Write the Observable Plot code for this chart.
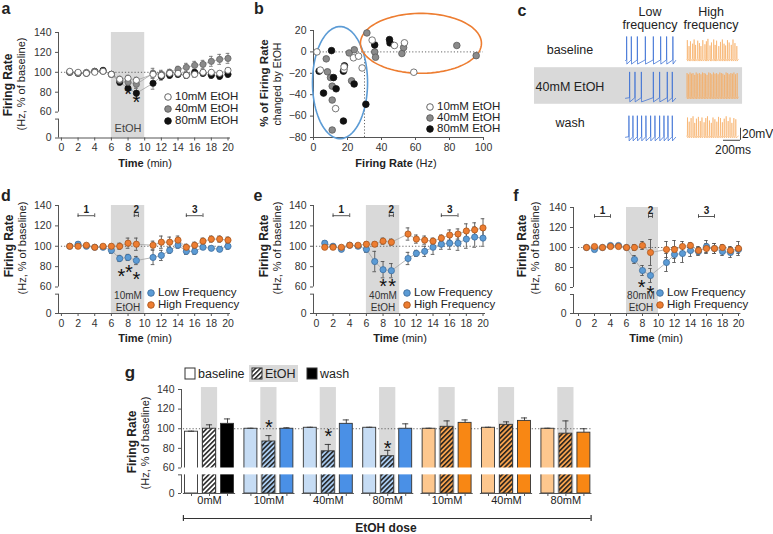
<!DOCTYPE html>
<html><head><meta charset="utf-8">
<script src="https://cdn.jsdelivr.net/npm/d3@7"></script>
<script src="https://cdn.jsdelivr.net/npm/@observablehq/plot@0.6"></script>
<style>
html,body{margin:0;padding:0;background:#fff;}
#fig{position:relative;width:773px;height:534px;overflow:hidden;background:#fff;font-family:"Liberation Sans",Arial,sans-serif;color:#222;}
#fig svg{overflow:visible;}
.lbl{position:absolute;white-space:nowrap;font-size:11px;line-height:1;transform:translate(-50%,-50%);}
.lbl.start{transform:translate(0,-50%);}
.lbl.rot{transform:translate(-50%,-50%) rotate(-90deg);}
</style></head><body>
<div id="fig"></div>
<script>
// ---------------- DATA ----------------
const times = [1,2,3,4,5,6,7,8,9,11,12,13,14,15,16,17,18,19,20];
const etohWindow = [6, 10];

// panel a (EtOH doses, all neurons)
const a10  = [101,100,99,100,101,98,93,94,92,98,97,99,99,97,98,100,100,99,102];
const a10e = [1.5,1.5,1.5,1.5,1.5,2,3,3,3,4,4,3,3,3,3,3,2,2,2];
const a40  = [100,99,100,101,101,98,92,90,88,99,98,100,103,105,107,108,111,113,114];
const a40e = [1.5,1.5,1.5,1.5,1.5,2,3,3,4,5,4,3,3,4,4,4,5,5,5];
const a80  = [100,99,99,101,102,98,90,84,79,89,96,97,98,97,100,99,97,96,98];
const a80e = [1.5,1.5,1.5,1.5,1.5,2,3,4,5,6,4,3,3,3,3,3,3,3,3];
const aSig = [{t:8.0, y:82.7}, {t:9.0, y:74.7}];

// panel b (baseline firing rate vs % change)
const b10x = [2,4,18,18,23.5,26.5,28.6,13,34.5,47.6,53.5,59];
const b10y = [0,-17,-16.5,-14,-5.5,-4,-15,-53,11,6,8.5,-19];
const b40x = [7.5,8.2,10,11,11,11,21,24,22.4,31.4,36,36.5,52,53,84.3,95.7];
const b40y = [-6.5,-18.6,-24,-32,-45,-73,-1,2,-27,17.7,0,-5,-1.5,4,6,-3.5];
const b80x = [3.3,5.9,10.6,11.8,13.3,18.2,17.6,17.6,23.9,30.8,36,44.7,45];
const b80y = [-18,-38.5,1.2,-24,-34.5,-13,-18,-64.6,-30,-49,6.5,11.5,8.4];
const lowHighCut = 30;
const blueEllipse = {cx:15.6, cy:-28.7, rx:16.2, ry:52.4};
const orangeEllipse = {cx:63.2, cy:8, rx:35.6, ry:28};

// panel c (example traces, spike times in ms and amplitudes in mV)
const cRows = ["baseline", "40mM EtOH", "wash"];
const lowSpikes = [
  [12,67,138,232,326,412,482,556],
  [47,110,185,326,400,490,549],
  [39,86,138,188,239,294,345,400,451,498,549]
];
const lowAmp = [40, 44, 36];
const highSpikes = [
  [8,28,45,70,88,105,130,150,168,190,215,232,250,275,292,318,335,352,378,398,420,440,458,480,500,525,545,568,590],
  [5,22,40,58,75,95,112,130,150,168,186,205,222,240,260,278,296,315,333,352,370,390,408,426,445,464,482,500,520,538,556,575,594],
  [10,30,52,75,95,115,138,160,180,205,225,245,268,290,310,332,355,375,398,420,442,465,488,510,532,555,578]
];
const highAmp = [
  [32,22,30,26,33,24,31,27,22,32,25,30,34,23,28,33,24,31,22,29,33,26,23,32,28,24,33,27,22],
  [40,38,41,39,40,37,41,39,40,38,41,40,39,37,41,40,38,41,39,40,38,41,40,39,37,41,40,38,40,39,41,38,40],
  [31,24,30,33,22,29,32,25,31,23,30,33,26,22,31,28,24,32,30,23,29,33,25,31,22,30,28]
];

// panel d (10 mM)
const dLow   = [100,102,100,99,99,96,88,89,86,89,91,96,101,95,95,99,98,97,100];
const dLowE  = [1.5,2,1.5,1.5,1.5,3,3,3,4,7,5,3,3,3,3,2,2,2,3];
const dHigh  = [100,100,101,99,100,100,100,103,102,101,104,104,106,99,101,105,107,107,106];
const dHighE = [1.5,1.5,1.5,1.5,1.5,2,3,5,6,4,6,5,4,3,3,3,3,3,3];
const dSig = [{t:7.2,y:75.2},{t:8.1,y:79.1},{t:9.0,y:72.3}];
// panel e (40 mM)
const eLow   = [103,100,97,101,100,97,85,77,76,88,93,95,99,102,103,103,107,109,108];
const eLowE  = [2,2,2,2,2,3,10,8,7,6,3,5,7,5,6,7,9,10,8];
const eHigh  = [99,99,99,101,101,102,102,105,104,112,107,106,105,108,111,112,115,116,118];
const eHighE = [1.5,1.5,1.5,1.5,1.5,2,2,3,3,6,4,4,3,3,5,5,7,7,9];
const eSig = [{t:8.0,y:65.4},{t:9.1,y:65.4}];
// panel f (80 mM)
const fLow   = [100,98,100,102,102,100,88,77,72,85,93,94,97,96,101,99,96,95,98];
const fLowE  = [2,2,2,2,2,2,4,5,7,9,8,9,6,4,6,5,4,5,4];
const fHigh  = [100,101,100,101,101,100,100,102,95,98,98,101,102,97,99,99,100,97,99];
const fHighE = [1.5,1.5,1.5,1.5,1.5,2,3,4,13,8,9,5,3,4,5,5,3,4,7];
const fSig = [{t:7.9,y:65},{t:9.0,y:59}];
const epochs = [{n:"1", x1:2, x2:4}, {n:"2", x1:8.75, x2:9.25}, {n:"3", x1:15, x2:17}];

// panel g (summary bars)
const gDoses  = ["0mM","10mM","40mM","80mM","10mM","40mM","80mM"];
const gFamily = ["ctrl","low","low","low","high","high","high"];
const gConds  = ["baseline","EtOH","wash"];
const gBase   = [97,100,101,101,100,101,100];
const gBaseE  = [0.5,0.5,0.5,0.5,0.5,0.5,0.5];
const gEtoh   = [100,87,77,72,102,104,95];
const gEtohE  = [4,6,7,6,6,3,13];
const gWash   = [105,100,105,100,106,108,96];
const gWashE  = [5,1,4,5,3,3,4];
const gSig    = [null,106.4,97.2,85,null,null,null];

// ---------------- HELPERS ----------------
const fig = document.getElementById("fig");
const FONT = "'Liberation Sans', Arial, sans-serif";
const Y0 = 34, BRK_LO = 53, BRK_HI = 60;   // broken axis: "0" drawn at Y0
const STYLE = {fontFamily: FONT, fontSize: "10.5px", color: "#333", background: "transparent", overflow: "visible"};

function place(el, left, top) {
  el.style.position = "absolute"; el.style.left = left + "px"; el.style.top = top + "px";
  fig.appendChild(el);
}
function label(html, x, y, opt = {}) {
  const d = document.createElement("div");
  d.className = "lbl" + (opt.rot ? " rot" : "") + (opt.anchor === "start" ? " start" : "");
  d.innerHTML = html;
  d.style.left = x + "px"; d.style.top = y + "px";
  if (opt.size) d.style.fontSize = opt.size + "px";
  if (opt.bold) d.style.fontWeight = "bold";
  if (opt.color) d.style.color = opt.color;
  fig.appendChild(d);
}
function legendDot(x, y, fill, stroke, text, size = 11.5) {
  const s = document.createElementNS("http://www.w3.org/2000/svg", "svg");
  s.setAttribute("width", 10); s.setAttribute("height", 10);
  s.innerHTML = `<circle cx="5" cy="5" r="3.3" fill="${fill}" stroke="${stroke}" stroke-width="0.9"/>`;
  place(s, x - 5, y - 5);
  label(text, x + 7, y, {anchor: "start", size});
}

// hatch patterns
const defs = d3.select(fig).append("svg").attr("width", 0).attr("height", 0)
  .style("position", "absolute").append("defs");
function hatch(id, bg) {
  const p = defs.append("pattern").attr("id", id).attr("patternUnits", "userSpaceOnUse")
    .attr("width", 3.4).attr("height", 3.4).attr("patternTransform", "rotate(45)");
  p.append("rect").attr("width", 3.4).attr("height", 3.4).attr("fill", bg);
  p.append("line").attr("x1", 0.8).attr("y1", 0).attr("x2", 0.8).attr("y2", 3.4)
    .attr("stroke", "#1a1a1a").attr("stroke-width", 1.5);
}
hatch("hatchCtrl", "#ffffff");
hatch("hatchLow", "#a9cbf0");
hatch("hatchHigh", "#f6a24e");

function brokenYAxis(xmin) {
  return [
    Plot.ruleX([xmin], {y1: Y0, y2: BRK_LO, stroke: "#555"}),
    Plot.ruleX([xmin], {y1: BRK_HI, y2: 140, stroke: "#555"}),
    Plot.axisY({ticks: [Y0, 60, 80, 100, 120, 140], tickFormat: d => d === Y0 ? "0" : d, tickSize: 3, tickPadding: 4, label: null, stroke: "#555"}),
    Plot.axisY({ticks: [BRK_LO], tickFormat: () => "", tickSize: 3, label: null, stroke: "#555"})
  ];
}

function timecourse(o) {
  const marks = [
    Plot.rect([etohWindow], {x1: d => d[0], x2: d => d[1], y1: Y0, y2: 140, fill: "#d9d9d9"}),
    Plot.ruleY([100], {x1: 0, x2: 20, stroke: "#555", strokeWidth: 0.9, strokeDasharray: "1.2,2"}),
    Plot.ruleY([Y0], {x1: o.xdom[0], x2: o.xdom[1], stroke: "#555"}),
    ...brokenYAxis(o.xdom[0]),
    Plot.axisX({ticks: d3.range(0, 21, 2), tickSize: 3, tickPadding: 3, label: null, stroke: "#555"})
  ];
  const sets = o.series.map(s => times.map((t, i) => ({t, v: s.v[i], e: s.e[i]})));
  sets.forEach(rows => marks.push(Plot.line(rows, {x: "t", y: "v", stroke: "#a3a3a3", strokeWidth: 0.8})));
  o.series.forEach((s, k) => {
    const rows = sets[k];
    marks.push(
      Plot.ruleX(rows, {x: "t", y1: d => d.v - d.e, y2: d => d.v + d.e, stroke: o.errColor, strokeWidth: 0.9}),
      Plot.ruleY(rows, {y: d => d.v + d.e, x1: d => d.t - 0.22, x2: d => d.t + 0.22, stroke: o.errColor, strokeWidth: 0.9}),
      Plot.ruleY(rows, {y: d => d.v - d.e, x1: d => d.t - 0.22, x2: d => d.t + 0.22, stroke: o.errColor, strokeWidth: 0.9})
    );
  });
  o.series.forEach((s, k) => marks.push(
    Plot.dot(sets[k], {x: "t", y: "v", r: 3.1, fill: s.fill, stroke: s.stroke, strokeWidth: 0.8})
  ));
  marks.push(Plot.text(o.sig, {x: "t", y: "y", text: () => "*", fontSize: 20, dy: 5, fill: "#111"}));
  if (o.epochs) {
    const by = o.bracketY;
    marks.push(
      Plot.ruleY(o.epochs, {y: by, x1: "x1", x2: "x2", stroke: "#444", strokeWidth: 0.9}),
      Plot.ruleX(o.epochs.flatMap(e => [e.x1, e.x2]), {y1: by - 1.8, y2: by + 1.8, stroke: "#444", strokeWidth: 0.9}),
      Plot.text(o.epochs, {x: d => (d.x1 + d.x2) / 2, y: by, text: "n", dy: -6, fontSize: 10, fontWeight: "bold", fill: "#222"})
    );
  }
  const p = Plot.plot({
    width: o.width, height: o.height,
    marginLeft: o.mL, marginRight: o.mR, marginTop: o.mT, marginBottom: o.mB,
    x: {domain: o.xdom}, y: {domain: [Y0, 140]},
    style: STYLE, marks
  });
  place(p, o.left, o.top);
}

const lowS  = {fill: "#5b9bd5", stroke: "#3f6f9f"};
const highS = {fill: "#ed7d31", stroke: "#a9571d"};

// ---------------- PANEL a ----------------
timecourse({
  left: 0, top: 0, width: 260, height: 175, mL: 58, mR: 30, mT: 32, mB: 37.5, xdom: [-0.35, 20.3],
  errColor: "#777", sig: aSig,
  series: [
    {v: a80, e: a80e, fill: "#111", stroke: "#111"},
    {v: a40, e: a40e, fill: "#8a8a8a", stroke: "#666"},
    {v: a10, e: a10e, fill: "#fff", stroke: "#555"}
  ]
});

// ---------------- PANEL b ----------------
{
  const ell = e => d3.range(0, 361, 4).map(a => ({x: e.cx + e.rx * Math.cos(a * Math.PI / 180), y: e.cy + e.ry * Math.sin(a * Math.PI / 180)}));
  const pts = (xs, ys) => xs.map((x, i) => ({x, y: ys[i]}));
  const p = Plot.plot({
    width: 270, height: 175, marginLeft: 63, marginRight: 37, marginTop: 30, marginBottom: 38,
    x: {domain: [0, 100]}, y: {domain: [-80, 20]}, style: STYLE,
    marks: [
      Plot.ruleY([0], {x1: 0, x2: 100, stroke: "#555", strokeWidth: 0.9, strokeDasharray: "1.2,2"}),
      Plot.ruleX([lowHighCut], {y1: -80, y2: 0, stroke: "#555", strokeWidth: 0.9, strokeDasharray: "1.2,2"}),
      Plot.ruleY([-80], {x1: 0, x2: 100, stroke: "#555"}),
      Plot.ruleX([0], {y1: -80, y2: 20, stroke: "#555"}),
      Plot.axisY({ticks: d3.range(-80, 21, 20), tickSize: 3, tickPadding: 4, label: null, stroke: "#555"}),
      Plot.axisX({ticks: d3.range(0, 101, 20), tickSize: 3, tickPadding: 3, label: null, stroke: "#555"}),
      Plot.line(ell(blueEllipse), {x: "x", y: "y", stroke: "#5b9bd5", strokeWidth: 1.6}),
      Plot.line(ell(orangeEllipse), {x: "x", y: "y", stroke: "#ed7d31", strokeWidth: 1.6}),
      Plot.dot(pts(b40x, b40y), {x: "x", y: "y", r: 3.3, fill: "#8a8a8a", stroke: "#5a5a5a", strokeWidth: 0.8}),
      Plot.dot(pts(b80x, b80y), {x: "x", y: "y", r: 3.3, fill: "#111", stroke: "#111", strokeWidth: 0.8}),
      Plot.dot(pts(b10x, b10y), {x: "x", y: "y", r: 3.3, fill: "#fff", stroke: "#555", strokeWidth: 0.8})
    ]
  });
  place(p, 250, 0);
}

// ---------------- PANEL c ----------------
{
  const rest = [-100, -163, -228];
  const lowStart = 1235, highStart = 1953;
  function trace(spikes, amps, start, dur, r, ahp, row) {
    const out = [{x: start, y: r, row}];
    spikes.forEach((s, i) => {
      const t = start + s;
      out.push({x: t, y: r + 1, row}, {x: t + 1.5, y: r + amps[i], row}, {x: t + 4, y: r - ahp, row});
    });
    out.push({x: start + dur, y: r, row});
    return out;
  }
  const lowPts = cRows.flatMap((row, i) => trace(lowSpikes[i], lowSpikes[i].map(() => lowAmp[i]), lowStart, 590, rest[i], 6, row));
  const highPts = cRows.flatMap((row, i) => trace(highSpikes[i], highAmp[i], highStart, 610, rest[i] + 2, 3, row));
  const p = Plot.plot({
    width: 253, height: 175, marginLeft: 0, marginRight: 0, marginTop: 0, marginBottom: 0,
    x: {domain: [0, 2976], axis: null}, y: {domain: [-291.7, 0], axis: null}, style: STYLE,
    marks: [
      Plot.rect([cRows[1]], {x1: 165, x2: 2612, y1: rest[1] + 51, y2: rest[1] - 10, fill: "#d9d9d9"}),
      Plot.line(lowPts, {x: "x", y: "y", z: "row", stroke: "#3a6fd4", strokeWidth: 0.75}),
      Plot.line(highPts, {x: "x", y: "y", z: "row", stroke: "#f7a95c", strokeWidth: 0.6}),
      Plot.ruleX([2588], {y1: -213, y2: -233, stroke: "#444", strokeWidth: 1}),
      Plot.ruleY([-233], {x1: 2388, x2: 2588, stroke: "#444", strokeWidth: 1})
    ]
  });
  place(p, 520, 0);
  label("Low", 650, 12, {size: 12.5});
  label("frequency", 650, 25, {size: 12.5});
  label("High", 711, 12, {size: 12.5});
  label("frequency", 711, 25, {size: 12.5});
  label("baseline", 570, 50, {size: 12.5});
  label("40mM EtOH", 570, 87, {size: 12.5});
  label("wash", 570, 123, {size: 12.5});
  label("20mV", 742, 134, {size: 12, anchor: "start"});
  label("200ms", 733, 150, {size: 12});
}

// ---------------- PANELS d, e, f ----------------
timecourse({
  left: 0, top: 173, width: 260, height: 175, mL: 58, mR: 30, mT: 32, mB: 35, xdom: [-0.35, 20.3],
  errColor: "#555", sig: dSig, epochs, bracketY: 130,
  series: [{v: dLow, e: dLowE, ...lowS}, {v: dHigh, e: dHighE, ...highS}]
});
timecourse({
  left: 255, top: 173, width: 260, height: 175, mL: 58, mR: 30, mT: 32, mB: 35, xdom: [-0.35, 20.3],
  errColor: "#555", sig: eSig, epochs, bracketY: 130,
  series: [{v: eLow, e: eLowE, ...lowS}, {v: eHigh, e: eHighE, ...highS}]
});
timecourse({
  left: 510, top: 173, width: 263, height: 175, mL: 63, mR: 32.6, mT: 34, mB: 35, xdom: [-0.625, 20.3],
  errColor: "#555", sig: fSig, epochs, bracketY: 131,
  series: [{v: fLow, e: fLowE, ...lowS}, {v: fHigh, e: fHighE, ...highS}]
});

// ---------------- PANEL g ----------------
{
  const GAP = 3.3;
  const vals = [gBase, gEtoh, gWash], errs = [gBaseE, gEtohE, gWashE];
  const palette = {
    ctrl: ["#ffffff", "url(#hatchCtrl)", "#000000"],
    low:  ["#c6dcf4", "url(#hatchLow)",  "#4a90e6"],
    high: ["#fdc78e", "url(#hatchHigh)", "#f88714"]
  };
  const bars = gDoses.flatMap((dose, gi) => gConds.map((cond, ci) => ({
    gi, ci, dose, cond, pos: gi * GAP + ci, v: vals[ci][gi], e: errs[ci][gi], fill: palette[gFamily[gi]][ci]
  })));
  const groups = gDoses.map((d, gi) => gi);
  const etohBars = bars.filter(b => b.cond === "EtOH");
  const sig = etohBars.filter(b => gSig[b.gi] != null);
  const xmin = -0.556, xmax = 22;
  const p = Plot.plot({
    width: 500, height: 164, marginLeft: 61, marginRight: 33, marginTop: 19, marginBottom: 41,
    x: {domain: [xmin, xmax], axis: null}, y: {domain: [Y0, 140]}, color: {type: "identity"}, style: STYLE,
    marks: [
      Plot.rect(etohBars, {x1: d => d.pos - 0.45, x2: d => d.pos + 0.45, y1: Y0, y2: 142, fill: "#d9d9d9"}),
      Plot.ruleY([100], {x1: -0.45, x2: 22.2, stroke: "#555", strokeWidth: 0.9, strokeDasharray: "1.2,2"}),
      Plot.rect(bars, {x1: d => d.pos - 0.36, x2: d => d.pos + 0.36, y1: Y0, y2: "v", fill: "fill", stroke: "#333", strokeWidth: 0.9}),
      Plot.ruleX(bars, {x: "pos", y1: "v", y2: d => d.v + d.e, stroke: "#333", strokeWidth: 0.9}),
      Plot.ruleY(bars, {y: d => d.v + d.e, x1: d => d.pos - 0.17, x2: d => d.pos + 0.17, stroke: "#333", strokeWidth: 0.9}),
      Plot.rect([BRK_LO], {x1: -0.5, x2: 22.3, y1: BRK_LO, y2: BRK_HI, fill: "#fff"}),
      Plot.ruleY(groups, {y: Y0, x1: gi => gi * GAP + 1 - 1.45, x2: gi => gi * GAP + 1 + 1.45, stroke: "#555"}),
      Plot.ruleX(bars, {x: "pos", y1: Y0, y2: Y0 - 3, stroke: "#555"}),
      ...brokenYAxis(xmin),
      Plot.text(groups, {x: gi => gi * GAP + 1, y: Y0, text: gi => gDoses[gi], dy: 7, fontSize: 11, fill: "#222"}),
      Plot.text(sig, {x: "pos", y: d => gSig[d.gi], text: () => "*", fontSize: 20, dy: 5, fill: "#111"}),
      Plot.ruleY([Y0], {x1: -0.45, x2: 22.2, dy: 25, stroke: "#333", strokeWidth: 1.2}),
      Plot.ruleX([-0.45, 22.2], {y1: Y0 - 3, y2: Y0 + 3, dy: 25, stroke: "#333", strokeWidth: 1.2}),
      Plot.text(["EtOH dose"], {x: 10.8, y: Y0, text: d => d, dy: 35, fontSize: 12, fontWeight: "bold", fill: "#222"})
    ]
  });
  place(p, 120, 370);

  // legend g
  const box = (x, y, fill, w = 10, h = 11) => {
    const s = document.createElementNS("http://www.w3.org/2000/svg", "svg");
    s.setAttribute("width", w + 2); s.setAttribute("height", h + 2);
    s.innerHTML = `<rect x="1" y="1" width="${w}" height="${h}" fill="${fill}" stroke="#333" stroke-width="1"/>`;
    place(s, x - 1, y - 1);
  };
  const bg = document.createElement("div");
  bg.style.cssText = "width:49px;height:17px;background:#d9d9d9;";
  place(bg, 249, 365);
  box(185, 368, "#fff");
  label("baseline", 198, 374, {anchor: "start", size: 12.5});
  box(252, 368, "url(#hatchCtrl)");
  label("EtOH", 265, 374, {anchor: "start", size: 12.5});
  box(307, 368, "#000");
  label("wash", 320, 374, {anchor: "start", size: 12.5});
}

// ---------------- TEXT LABELS ----------------
// panel letters
label("a", 6, 9, {bold: true, size: 16});
label("b", 259, 9, {bold: true, size: 16});
label("c", 522, 11, {bold: true, size: 16});
label("d", 6, 196, {bold: true, size: 16});
label("e", 258, 196, {bold: true, size: 16});
label("f", 516, 196, {bold: true, size: 16});
label("g", 130, 372, {bold: true, size: 17});

// panel a
label("Firing Rate", 8, 85, {rot: true, bold: true, size: 12});
label("(Hz, % of baseline)", 21, 84, {rot: true, size: 11});
label("<b>Time</b> (min)", 145, 163, {size: 11});
label("EtOH", 128, 128, {size: 11, color: "#444"});
legendDot(168, 97, "#fff", "#555", "10mM EtOH");
legendDot(168, 109, "#8a8a8a", "#5a5a5a", "40mM EtOH");
legendDot(168, 121, "#111", "#111", "80mM EtOH");

// panel b
label("% of Firing Rate", 265, 83, {rot: true, bold: true, size: 11.5});
label("changed by EtOH", 277, 84, {rot: true, size: 10.5});
label("<b>Firing Rate</b> (Hz)", 396, 163, {size: 11});
legendDot(430, 107, "#fff", "#555", "10mM EtOH");
legendDot(430, 118, "#8a8a8a", "#5a5a5a", "40mM EtOH");
legendDot(430, 129, "#111", "#111", "80mM EtOH");

// panels d, e, f
[[9, 22, 145, "10mM", 128, 151], [264, 277, 400, "40mM", 383, 407], [522, 535, 656, "80mM", 641, 660]]
.forEach(([xl1, xl2, xt, dose, xe, xleg]) => {
  label("Firing Rate", xl1, 246, {rot: true, bold: true, size: 12});
  label("(Hz, % of baseline)", xl2, 248, {rot: true, size: 11});
  label("<b>Time</b> (min)", xt, 338, {size: 11});
  label(dose, xe, 296, {size: 10, color: "#333"});
  label("EtOH", xe, 308, {size: 10, color: "#333"});
  legendDot(xleg, 293, lowS.fill, lowS.stroke, "Low Frequency");
  legendDot(xleg, 305, highS.fill, highS.stroke, "High Frequency");
});

// panel g axis label
label("Firing Rate", 132, 442, {rot: true, bold: true, size: 12});
label("(Hz, % of baseline)", 145, 443, {rot: true, size: 11});
</script></body></html>
